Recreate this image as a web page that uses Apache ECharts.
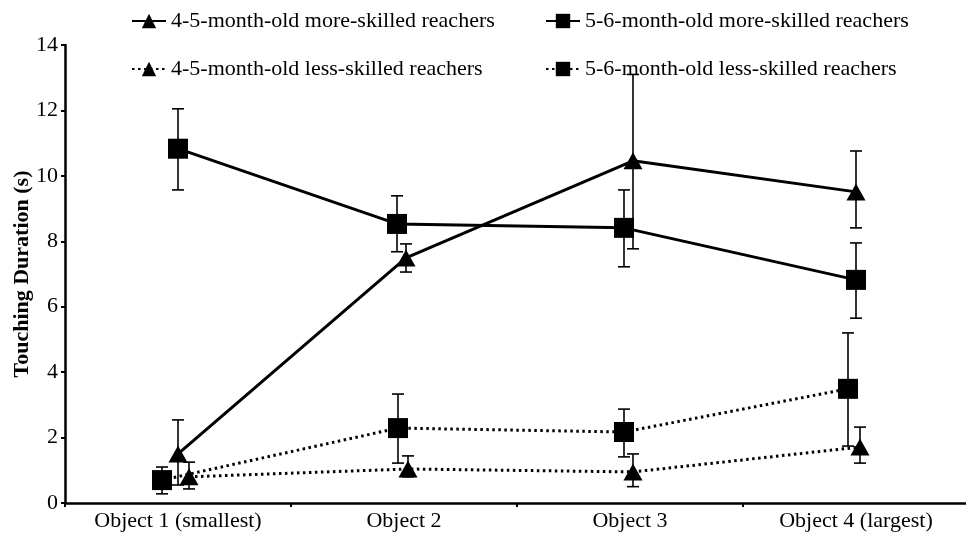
<!DOCTYPE html>
<html>
<head>
<meta charset="utf-8">
<script src="https://cdn.jsdelivr.net/npm/echarts@6/dist/echarts.min.js"></script>
<style>
  html, body { margin: 0; padding: 0; background: #fff; }
  #myChart { width: 966px; height: 534px; }
</style>
</head>
<body>
<div id="myChart"></div>
<script>
// categories
const objects = ['Object 1 (smallest)', 'Object 2', 'Object 3', 'Object 4 (largest)']
const seriesNames = [
  '4-5-month-old more-skilled reachers',
  '5-6-month-old more-skilled reachers',
  '4-5-month-old less-skilled reachers',
  '5-6-month-old less-skilled reachers'
]
// means (s)
const young_more = [1.5, 7.49, 10.46, 9.51]
const old_more = [10.83, 8.53, 8.41, 6.82]
const young_less = [0.8, 1.04, 0.95, 1.71]
const old_less = [0.7, 2.29, 2.17, 3.49]
// error bar ends
const young_more_low = [0.55, 7.06, 7.77, 8.41]
const young_more_high = [2.54, 7.92, 13.1, 10.76]
const old_more_low = [9.57, 7.68, 7.22, 5.65]
const old_more_high = [12.05, 9.39, 9.57, 7.95]
const young_less_low = [0.43, 0.8, 0.5, 1.22]
const young_less_high = [1.25, 1.44, 1.5, 2.32]
const old_less_low = [0.28, 1.22, 1.41, 1.74]
const old_less_high = [1.1, 3.33, 2.87, 5.2]
// y ticks
const yTicks = [0, 2, 4, 6, 8, 10, 12, 14]

// horizontal dodge of each group (px), only to keep the marks apart
const BAND = 226
const dodge = [
  [0, 2, 3, 0],
  [0, -7, -6, 0],
  [11, 4, 3, 4],
  [-16, -6, -6, -8]
]

const FONT = '"Liberation Serif", "Times New Roman", serif'
const groups = [
  { mean: young_more, low: young_more_low, high: young_more_high, symbol: 'triangle', size: [19, 17], dotted: false },
  { mean: old_more, low: old_more_low, high: old_more_high, symbol: 'rect', size: [20, 20], dotted: false },
  { mean: young_less, low: young_less_low, high: young_less_high, symbol: 'triangle', size: [19, 17], dotted: true },
  { mean: old_less, low: old_less_low, high: old_less_high, symbol: 'rect', size: [20, 20], dotted: true }
]

function drawLine() {
  let myChart = echarts.init(document.getElementById('myChart'))
  let series = []
  groups.forEach(function (g, k) {
    let xs = objects.map(function (o, i) { return i + dodge[k][i] / BAND })
    // error bars
    series.push({
      type: 'custom',
      xAxisIndex: 1,
      silent: true,
      z: 1,
      data: xs.map(function (x, i) { return [x, g.low[i], g.high[i]] }),
      renderItem: function (params, api) {
        let lo = api.coord([api.value(0), api.value(1)])
        let hi = api.coord([api.value(0), api.value(2)])
        let w = 6
        let st = { stroke: '#000', lineWidth: 1.6 }
        return {
          type: 'group',
          children: [
            { type: 'line', shape: { x1: lo[0], y1: lo[1], x2: hi[0], y2: hi[1] }, style: st },
            { type: 'line', shape: { x1: lo[0] - w, y1: lo[1], x2: lo[0] + w, y2: lo[1] }, style: st },
            { type: 'line', shape: { x1: hi[0] - w, y1: hi[1], x2: hi[0] + w, y2: hi[1] }, style: st }
          ]
        }
      }
    })
    series.push({
      name: seriesNames[k],
      type: 'line',
      xAxisIndex: 1,
      z: 3,
      data: xs.map(function (x, i) { return [x, g.mean[i]] }),
      symbol: g.symbol,
      symbolSize: g.size,
      itemStyle: { color: '#000' },
      lineStyle: { color: '#000', width: 3, type: g.dotted ? [2.5, 3.5] : 'solid' },
      emphasis: { disabled: true },
      animation: false
    })
  })

  let legendPos = [
    { left: 126, top: 5 },
    { left: 540, top: 5 },
    { left: 126, top: 53 },
    { left: 540, top: 53 }
  ]

  myChart.setOption({
    backgroundColor: '#fff',
    animation: false,
    legend: seriesNames.map(function (n, k) {
      return {
        data: [n],
        left: legendPos[k].left,
        top: legendPos[k].top,
        itemWidth: 34,
        itemHeight: 18,
        itemGap: 4,
        selectedMode: false,
        textStyle: { fontFamily: FONT, fontSize: 22, color: '#000' }
      }
    }),
    grid: { left: 65, right: -3, top: 45, bottom: 31, containLabel: false, outerBoundsMode: 'none' },
    xAxis: [
      {
        type: 'category',
        data: objects,
        boundaryGap: true,
        axisLine: { lineStyle: { color: '#000', width: 2.5 } },
        axisTick: { show: true, length: 4, lineStyle: { color: '#000', width: 2 } },
        axisLabel: { fontFamily: FONT, fontSize: 22, color: '#000', margin: 7 },
        splitLine: { show: false }
      },
      {
        type: 'value',
        min: -0.5,
        max: 3.5,
        show: false
      }
    ],
    yAxis: {
      type: 'value',
      min: yTicks[0],
      max: yTicks[yTicks.length - 1],
      interval: 2,
      name: 'Touching Duration (s)',
      nameLocation: 'middle',
      nameGap: 32,
      nameMoveOverlap: false,
      nameTextStyle: { fontFamily: FONT, fontSize: 22, fontWeight: 'bold', color: '#000' },
      axisLine: { show: true, onZero: false, lineStyle: { color: '#000', width: 2.5 } },
      axisTick: { show: true, length: 4, lineStyle: { color: '#000', width: 2 } },
      axisLabel: { fontFamily: FONT, fontSize: 22, color: '#000', margin: 7 },
      splitLine: { show: false }
    },
    series: series
  })
}

drawLine()
</script>
</body>
</html>
